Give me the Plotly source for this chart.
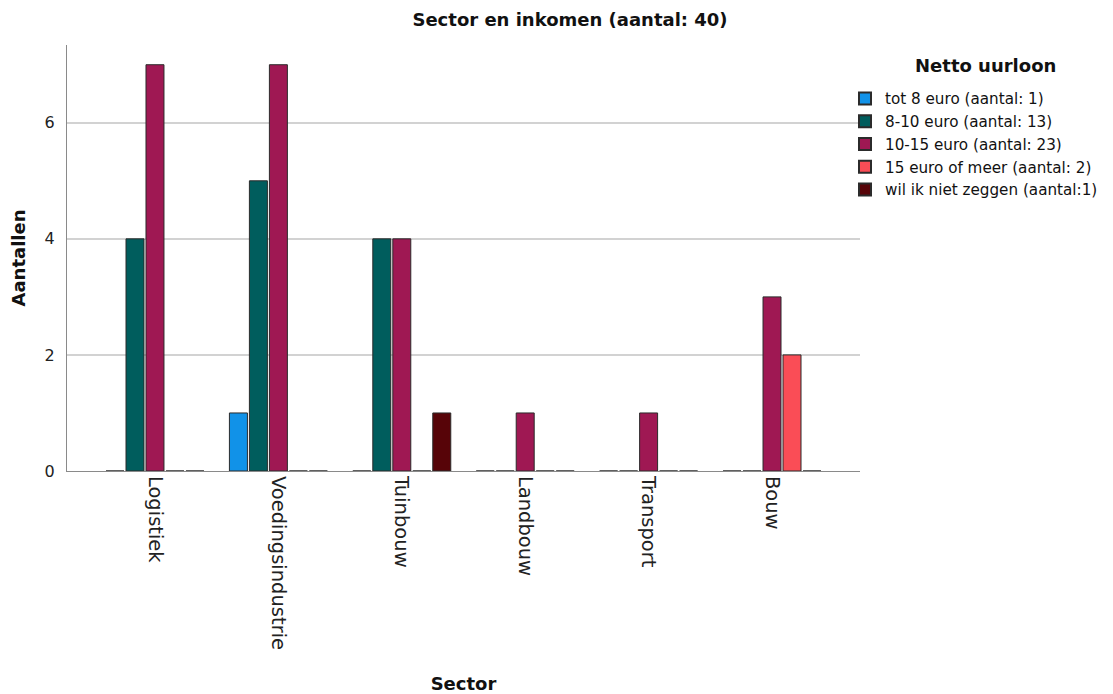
import plotly.graph_objects as go

sectors = ["Logistiek", "Voedingsindustrie", "Tuinbouw", "Landbouw", "Transport", "Bouw"]
series_names = [
    "tot 8 euro (aantal: 1)",
    "8-10 euro (aantal: 13)",
    "10-15 euro (aantal: 23)",
    "15 euro of meer (aantal: 2)",
    "wil ik niet zeggen (aantal:1)",
]
tot8 = [0, 1, 0, 0, 0, 0]
e8_10 = [4, 5, 4, 0, 0, 0]
e10_15 = [7, 7, 4, 1, 1, 3]
e15plus = [0, 0, 0, 0, 0, 2]
niet_zeggen = [0, 0, 1, 0, 0, 0]
colors = ["#1192e8", "#005d5d", "#9f1853", "#fa4d56", "#570408"]

FONT = "DejaVu Sans"
W, H = 1105, 686
fig = go.Figure()
for name, vals, col in zip(series_names, [tot8, e8_10, e10_15, e15plus, niet_zeggen], colors):
    fig.add_trace(go.Bar(
        x=sectors, y=vals, name=name,
        marker=dict(color=col, line=dict(color="#2b2b2b", width=1)),
    ))

fig.update_layout(
    width=W, height=H,
    margin=dict(l=59, r=253, t=37, b=223, autoexpand=False),
    paper_bgcolor="white", plot_bgcolor="white",
    barmode="group", bargap=0.19, bargroupgap=0.1,
    font=dict(family=FONT, color="#111"),
    title=dict(text="<b>Sector en inkomen (aantal: 40)</b>", x=0.5086, xanchor="center",
               y=0.9825, yanchor="middle", font=dict(size=18, family=FONT, color="#111")),
    legend=dict(
        xref="container", yref="container",
        x=837 / W, xanchor="left", y=1 - 74 / H, yanchor="top",
        font=dict(size=15.2, family=FONT, color="#111"),
        itemsizing="constant", tracegroupgap=0, itemwidth=30,
        bgcolor="rgba(0,0,0,0)",
    ),
    annotations=[dict(
        text="<b>Netto uurloon</b>", xref="paper", yref="paper",
        x=(977 - 59) / (W - 59 - 253), y=1 + (37 - 57) / (H - 37 - 223),
        xanchor="center", yanchor="middle", showarrow=False,
        font=dict(size=18, family=FONT, color="#111"),
    )],
    xaxis=dict(
        range=[-0.713, 5.713], tickangle=90, automargin=False,
        tickfont=dict(size=19.5, family=FONT, color="#222"),
        showline=True, linecolor="#8a8a8a", linewidth=1,
        ticks="", showgrid=False,
        title=dict(text="<b>Sector</b>", font=dict(size=18, family=FONT, color="#111"), standoff=31),
    ),
    yaxis=dict(
        range=[0, 7.34], dtick=2, automargin=False,
        tickfont=dict(size=16, family=FONT, color="#222"),
        showline=True, linecolor="#8a8a8a", linewidth=1,
        showgrid=True, gridcolor="#d2d2d2", gridwidth=1.5,
        zeroline=False, ticks="", ticklabelstandoff=8,
        title=dict(text="<b>Aantallen</b>", font=dict(size=18, family=FONT, color="#111"), standoff=14),
    ),
)

fig.write_html("out.html")
